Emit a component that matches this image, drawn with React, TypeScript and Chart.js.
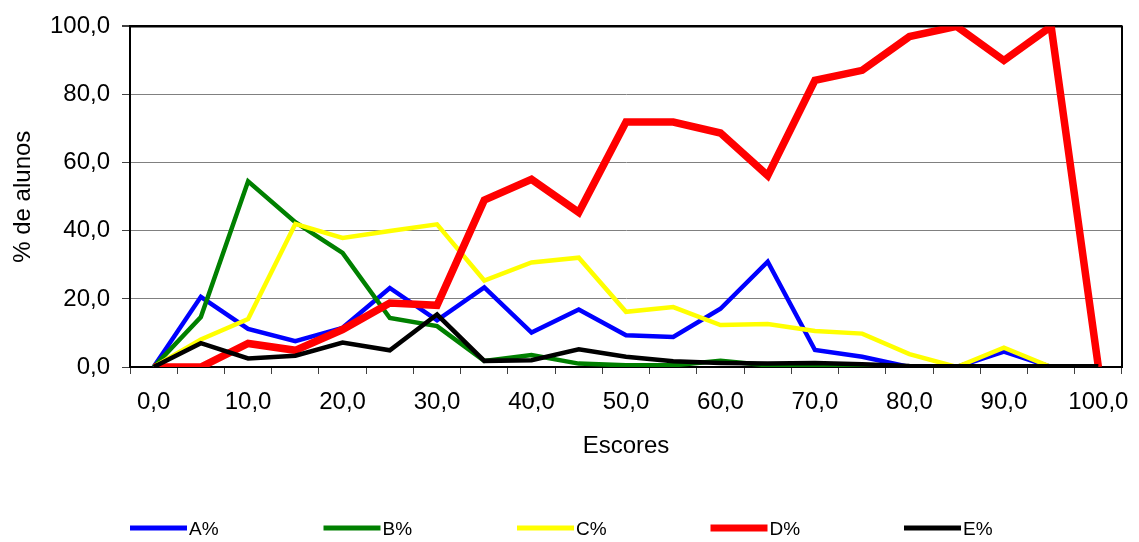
import React, { useEffect, useRef } from "react";
import { Chart, registerables } from "chart.js";

Chart.register(...registerables);

const scores = ["0,0", "5,0", "10,0", "15,0", "20,0", "25,0", "30,0", "35,0", "40,0", "45,0", "50,0", "55,0", "60,0", "65,0", "70,0", "75,0", "80,0", "85,0", "90,0", "95,0", "100,0"];

const seriesA = [0, 20.6, 11.2, 7.6, 11.5, 23.2, 13.7, 23.4, 10.1, 16.9, 9.3, 8.8, 17.1, 30.9, 5.0, 3.0, 0, 0, 4.5, 0, 0];
const seriesB = [0, 14.7, 54.5, 42.5, 33.5, 14.4, 12.0, 1.8, 3.5, 1.0, 0.5, 0.5, 1.8, 0.5, 0.5, 0.3, 0, 0, 0, 0, 0];
const seriesC = [0, 8.1, 14.1, 42.0, 37.9, 39.9, 41.9, 25.4, 30.7, 32.1, 16.2, 17.6, 12.3, 12.6, 10.6, 9.8, 3.8, 0, 5.7, 0, 0];
const seriesD = [0, 0, 6.9, 4.9, 11.0, 18.8, 18.1, 49.0, 55.1, 45.4, 71.9, 71.9, 68.7, 56.2, 84.2, 87.1, 97.0, 100, 90.0, 100, 0];
const seriesE = [0, 7.0, 2.5, 3.3, 7.2, 4.9, 15.4, 1.8, 2.0, 5.2, 3.0, 1.7, 1.2, 1.0, 1.2, 0.8, 0.3, 0.2, 0.2, 0.2, 0.2];

const seriesNames = ["A%", "B%", "C%", "D%", "E%"];
const seriesColors = ["#0000FF", "#008000", "#FFFF00", "#FF0000", "#000000"];
const seriesWidths = [4.5, 4.5, 4.5, 7.5, 4.5];

const FONT = "'Liberation Sans', Arial, sans-serif";

const frameAndLegend = {
  id: "frameAndLegend",
  beforeDatasetsDraw(chart: any) {
    const { ctx, chartArea } = chart;
    ctx.save();
    ctx.strokeStyle = "#000";
    ctx.lineWidth = 2;
    ctx.beginPath();
    ctx.moveTo(chartArea.left, chartArea.top);
    ctx.lineTo(chartArea.right, chartArea.top);
    ctx.lineTo(chartArea.right, chartArea.bottom);
    ctx.stroke();
    ctx.restore();
  },
  afterDraw(chart: any) {
    const { ctx } = chart;
    ctx.save();
    const startX = 130;
    const step = 193.5;
    const lineLen = 57;
    const y = 528;
    chart.data.datasets.forEach((ds: any, i: number) => {
      const x = startX + i * step;
      ctx.strokeStyle = ds.borderColor;
      ctx.lineWidth = i === 3 ? 7 : 5;
      ctx.lineCap = "butt";
      ctx.beginPath();
      ctx.moveTo(x, y);
      ctx.lineTo(x + lineLen, y);
      ctx.stroke();
      ctx.fillStyle = "#000";
      ctx.font = `19px ${FONT}`;
      ctx.textBaseline = "middle";
      ctx.textAlign = "left";
      ctx.fillText(ds.label, x + lineLen + 2, y + 2);
    });
    ctx.restore();
  },
};

export default function App() {
  const canvasRef = useRef<HTMLCanvasElement | null>(null);

  useEffect(() => {
    const canvas = canvasRef.current;
    if (!canvas) return;
    const data = [seriesA, seriesB, seriesC, seriesD, seriesE];
    const chart = new Chart(canvas, {
      type: "line",
      data: {
        labels: scores,
        datasets: data.map((d, i) => ({
          label: seriesNames[i],
          data: d,
          borderColor: seriesColors[i],
          backgroundColor: seriesColors[i],
          borderWidth: seriesWidths[i],
          pointRadius: 0,
          pointHoverRadius: 0,
          tension: 0,
          fill: false,
          order: 4 - i,
          borderJoinStyle: "miter" as const,
        })),
      },
      options: {
        animation: false,
        responsive: false,
        devicePixelRatio: 1,
        layout: { padding: { left: 0, right: 17, top: 24, bottom: 75 } },
        plugins: {
          legend: { display: false },
          tooltip: { enabled: false },
        },
        scales: {
          x: {
            type: "category",
            offset: true,
            afterFit(scale: any) {
              scale.height = 100;
              scale.paddingLeft = 0;
              scale.paddingRight = 0;
            },
            grid: {
              display: true,
              drawOnChartArea: false,
              offset: true,
              tickLength: 7,
              color: "#404040",
              lineWidth: 1,
            },
            border: { display: true, color: "#000", width: 2 },
            ticks: {
              autoSkip: false,
              maxRotation: 0,
              minRotation: 0,
              padding: 14,
              color: "#000",
              font: { family: FONT, size: 24 },
              callback: (_v: any, idx: number) => (idx % 2 === 0 ? scores[idx] : ""),
            },
            title: {
              display: true,
              text: "Escores",
              color: "#000",
              font: { family: FONT, size: 24 },
              padding: { top: 0, bottom: 6 },
            },
          },
          y: {
            min: 0,
            max: 100,
            afterFit(scale: any) {
              scale.width = 130;
            },
            grid: {
              tickLength: 8,
              color: (c: any) => (c.tick && c.tick.value === 100 ? "#000" : "#808080"),
              tickColor: "#404040",
              lineWidth: (c: any) => (c.tick && c.tick.value === 100 ? 2 : 1),
            },
            border: { display: true, color: "#000", width: 2 },
            ticks: {
              stepSize: 20,
              padding: 12,
              color: "#000",
              font: { family: FONT, size: 24 },
              callback: (v: any) => Number(v).toFixed(1).replace(".", ","),
            },
            title: {
              display: true,
              text: "% de alunos",
              color: "#000",
              font: { family: FONT, size: 24 },
              padding: { top: 9, bottom: 0 },
            },
          },
        },
      },
      plugins: [frameAndLegend],
    });
    return () => chart.destroy();
  }, []);

  return (
    <div style={{ position: "absolute", left: 0, top: 0, width: 1139, height: 542, background: "#fff" }}>
      <canvas ref={canvasRef} width={1139} height={542} style={{ display: "block" }} />
    </div>
  );
}
